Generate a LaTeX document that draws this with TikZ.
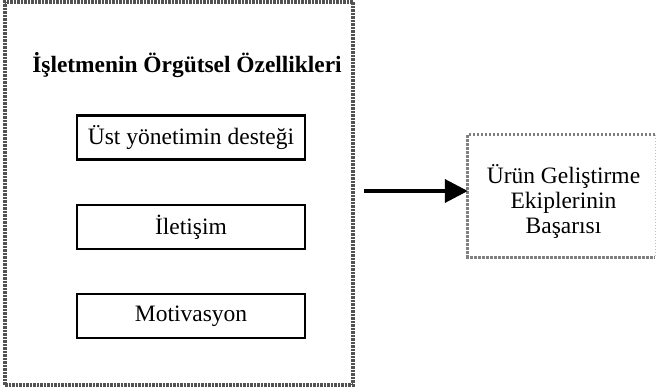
\documentclass[tikz,border=0pt]{standalone}
\usepackage{fontspec}
\setmainfont{Liberation Serif}
\usetikzlibrary{arrows.meta}
\tikzset{
  x=1pt, y=1pt,
  hatch/.style={draw=black!68, line width=4.2pt, dash pattern=on 2.5pt off 1pt},
  lighthatch/.style={draw=black!50, line width=3pt, dash pattern=on 2.5pt off 1.5pt},
  faint/.style={draw=black!25, line width=1pt, dash pattern=on 1.5pt off 1.5pt},
  factor/.style={draw=black, line width=2.6pt, minimum width=228pt, minimum height=44pt,
    inner sep=0pt, font=\fontsize{23.5}{24.5}\selectfont},
  bigarrow/.style={line width=3.8pt, -{Triangle[length=23pt,width=23pt]}},
}
\begin{document}
\begin{tikzpicture}
\useasboundingbox (0,0) rectangle (657,391);
\node[hatch, minimum width=348pt, minimum height=383pt, inner sep=0pt] (org) at (179,197.5) {};
\node[font=\fontsize{23.4}{24.5}\selectfont\bfseries] (title) at (187,326) {İşletmenin Örgütsel Özellikleri};
\node[factor] (f1) at (191,253.5) {Üst yönetimin desteği};
\node[factor] (f2) at (191,164) {İletişim};
\node[factor] (f3) at (191,75) {Motivasyon};
\node[minimum width=187pt, minimum height=122pt, inner sep=0pt] (res) at (561.5,195) {};
\node[align=center, inner sep=0pt, font=\fontsize{23.5}{25}\selectfont] (restext) at ([xshift=2pt,yshift=-5pt]res.center) {Ürün Geliştirme\\Ekiplerinin\\Başarısı};
\draw[lighthatch] (res.north east) -- (res.north west) -- (res.south west) -- (res.south east);
\draw[faint] (res.north east) -- (res.south east);
\draw[bigarrow] ([xshift=9pt,yshift=2.5pt]org.east) -- ([yshift=2.5pt]org.east -| res.west);
\end{tikzpicture}
\end{document}
